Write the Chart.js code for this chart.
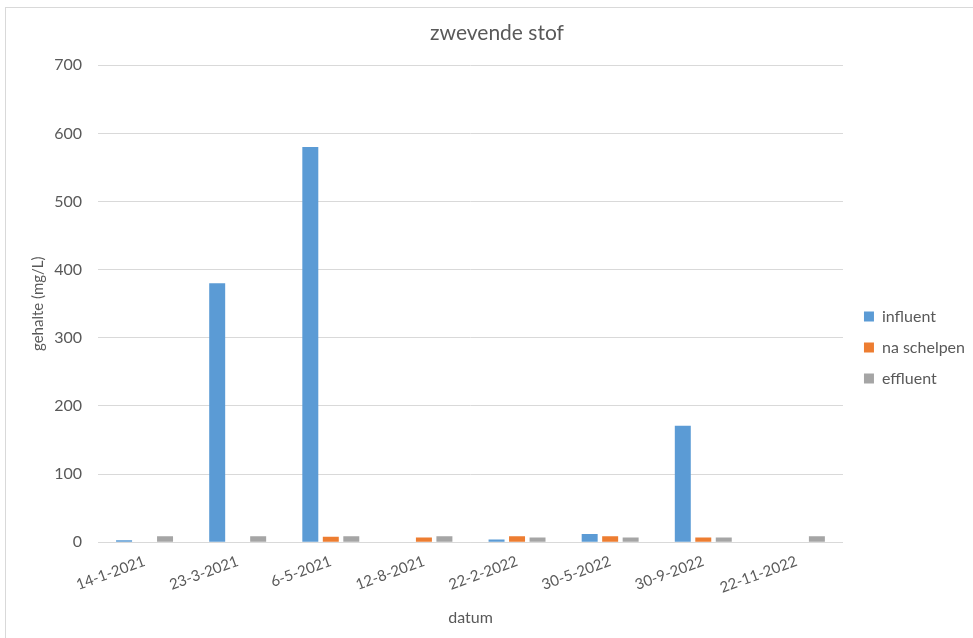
<!DOCTYPE html>
<html>
<head>
<meta charset="utf-8">
<script src="https://cdn.jsdelivr.net/npm/chart.js@4.4.1/dist/chart.umd.min.js"></script>
<style>
  body { margin: 0; background: #fff; }
  #wrap {
    position: absolute; left: 5px; top: 7px;
    width: 968px; height: 631px;
    border: 1px solid #d9d9d9; border-right: none; border-bottom: none;
    box-sizing: border-box;
  }
</style>
</head>
<body>
<div id="wrap"><canvas id="chart"></canvas></div>
<script>
// meetdata zwevende stof (mg/L)
const datums = ['14-1-2021', '23-3-2021', '6-5-2021', '12-8-2021', '22-2-2022', '30-5-2022', '30-9-2022', '22-11-2022'];
const influent = [3, 380, 580, null, 4, 12, 171, null];
const naSchelpen = [null, null, 8, 7, 9, 9, 7, null];
const effluent = [9, 9, 9, 9, 7, 7, 7, 9];

const font = "Lato, 'Open Sans', sans-serif";
const grey = '#595959';

// legenda iets verder naar rechts en omlaag zetten
const legendShift = {
    id: 'legendShift',
    afterLayout(chart) {
        const lg = chart.legend;
        lg.left += 6; lg.right += 6;
        lg.top += 25; lg.bottom += 25;
    }
};

const ctx = document.getElementById('chart').getContext('2d');
new Chart(ctx, {
    type: 'bar',
    data: {
        labels: datums,
        datasets: [
            { label: 'influent', data: influent, backgroundColor: '#5B9BD5' },
            { label: 'na schelpen', data: naSchelpen, backgroundColor: '#ED7D31' },
            { label: 'effluent', data: effluent, backgroundColor: '#A5A5A5' }
        ]
    },
    plugins: [legendShift],
    options: {
        responsive: true,
        maintainAspectRatio: false,
        animation: false,
        datasets: { bar: { categoryPercentage: 0.66, barPercentage: 0.78 } },
        layout: { padding: { top: 6, right: 4, bottom: 7, left: 19 } },
        plugins: {
            title: {
                display: true,
                text: 'zwevende stof',
                color: grey,
                font: { family: font, size: 21, weight: 'normal' },
                padding: { top: 7, bottom: 19 }
            },
            legend: {
                position: 'right',
                labels: {
                    color: grey,
                    font: { family: font, size: 16 },
                    boxWidth: 10, boxHeight: 10,
                    padding: 15
                }
            },
            tooltip: { enabled: false }
        },
        scales: {
            x: {
                grid: { display: false },
                border: { color: '#d9d9d9' },
                ticks: {
                    color: grey,
                    font: { family: font, size: 15 },
                    minRotation: 20, maxRotation: 20,
                    padding: 2
                },
                title: {
                    display: true, text: 'datum', color: grey,
                    font: { family: font, size: 16 },
                    padding: { top: 9 }
                }
            },
            y: {
                min: 0, max: 700,
                afterFit(scale) { scale.width = 73; },
                ticks: {
                    stepSize: 100, color: grey,
                    font: { family: font, size: 16 },
                    padding: 16
                },
                grid: { color: '#d9d9d9', drawTicks: false },
                border: { display: false },
                title: {
                    display: true, text: 'gehalte (mg/L)', color: grey,
                    font: { family: font, size: 15 },
                    padding: { top: 4, bottom: 16 }
                }
            }
        }
    }
});
</script>
</body>
</html>
